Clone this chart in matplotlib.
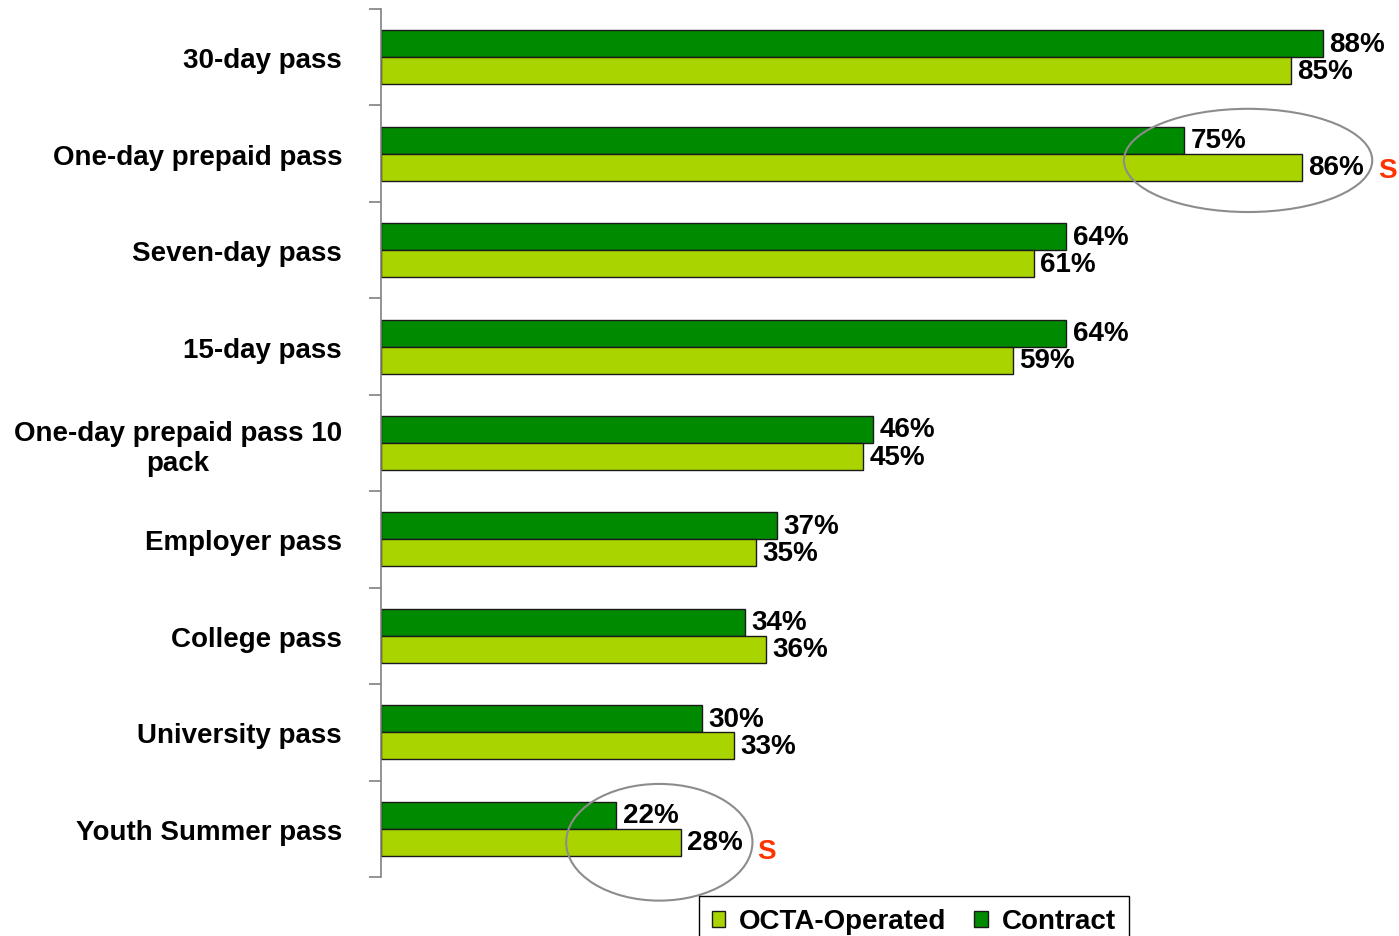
import numpy as np
import matplotlib
matplotlib.use("Agg")
import matplotlib.pyplot as plt
from matplotlib.patches import Patch, Ellipse

categories = [
    "30-day pass",
    "One-day prepaid pass",
    "Seven-day pass",
    "15-day pass",
    "One-day prepaid pass 10\npack",
    "Employer pass",
    "College pass",
    "University pass",
    "Youth Summer pass",
]
contract = [88, 75, 64, 64, 46, 37, 34, 30, 22]
octa = [85, 86, 61, 59, 45, 35, 36, 33, 28]
flagged = [1, 8]  # rows marked as significant ("S")

DARK = "#008a00"
LIGHT = "#aad400"
FONT = "Liberation Sans"
FS = 20

plt.rcParams["font.family"] = [FONT, "DejaVu Sans"]

fig = plt.figure(figsize=(13.99, 9.37), dpi=100)
ax = fig.add_axes([381 / 1399, 1 - 878 / 937, 1 - 381 / 1399, (878 - 10) / 937])

y = np.arange(len(categories))
h = 0.28
ax.barh(y - h / 2, contract, height=h, color=DARK, edgecolor="#1a1a1a", linewidth=1)
ax.barh(y + h / 2, octa, height=h, color=LIGHT, edgecolor="#1a1a1a", linewidth=1)

for yi, c, o in zip(y, contract, octa):
    ax.text(c + 0.6, yi - h / 2, f"{c}%", va="center", ha="left",
            fontsize=FS, fontweight="bold")
    ax.text(o + 0.6, yi + h / 2, f"{o}%", va="center", ha="left",
            fontsize=FS, fontweight="bold")

# circled, significant differences
for i in flagged:
    v = octa[i]
    ax.text(v + 8.0, i + 0.17 + (0.06 if i == 8 else 0), "S", color="#ff3300",
            fontsize=FS, fontweight="bold", va="center", ha="center", clip_on=False)
ax.add_patch(Ellipse((81.0, 1.07), 23.2, 1.07, fill=False, edgecolor="#8c8c8c",
                     linewidth=1.5, clip_on=False))
ax.add_patch(Ellipse((26.0, 8.14), 17.4, 1.21, fill=False, edgecolor="#8c8c8c",
                     linewidth=1.5, clip_on=False))

ax.set_xlim(0, 95.1)
ax.set_ylim(len(categories) - 0.5, -0.5)
ax.set_xticks([])
ax.set_yticks(y)
ax.set_yticklabels(categories, fontsize=FS, fontweight="bold", multialignment="center")
ax.set_yticks(np.arange(len(categories) + 1) - 0.5, minor=True)
ax.tick_params(axis="y", which="major", length=0, pad=28)
ax.tick_params(axis="y", which="minor", length=9, color="#808080", width=1.2)
for s in ["top", "right", "bottom"]:
    ax.spines[s].set_visible(False)
ax.spines["left"].set_color("#808080")
ax.spines["left"].set_linewidth(1.2)

handles = [Patch(facecolor=LIGHT, edgecolor="#1a1a1a", label="OCTA-Operated"),
           Patch(facecolor=DARK, edgecolor="#1a1a1a", label="Contract")]
leg = fig.legend(handles=handles, loc="upper left", ncol=2,
                 bbox_to_anchor=(699 / 1399, 1 - 897 / 937),
                 prop={"family": FONT, "weight": "bold", "size": FS},
                 handlelength=0.5, handleheight=0.5, handletextpad=0.5,
                 columnspacing=1.0, borderpad=0.45, borderaxespad=0,
                 fancybox=False, framealpha=1)
leg.get_frame().set_edgecolor("black")
leg.get_frame().set_linewidth(1)

fig.savefig("out.png", dpi=100)
